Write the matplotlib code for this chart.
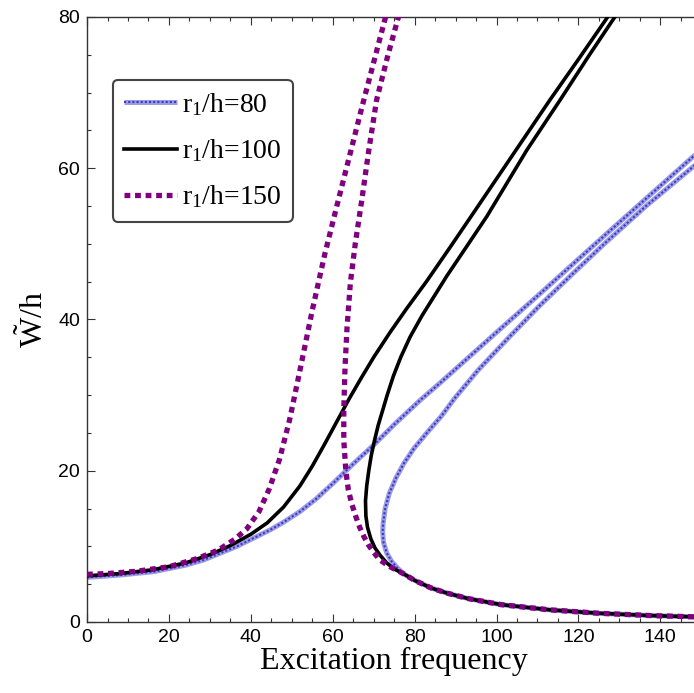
import matplotlib
matplotlib.use("Agg")
import matplotlib.pyplot as plt
from matplotlib.legend_handler import HandlerTuple
from matplotlib.ticker import MultipleLocator

plt.rcParams['mathtext.fontset'] = 'custom'
plt.rcParams['mathtext.rm'] = 'Liberation Serif'
plt.rcParams['mathtext.it'] = 'Liberation Serif:italic'

# r1/h = 80 (blue), upper branch: y as function of x
blue_up_x = [0, 8, 16.3, 24, 28.5, 36.6, 44.8, 48, 52, 56, 60, 65, 70, 75, 81.3, 86.2, 100,
             110.6, 127, 150]
blue_up_y = [5.9, 6.2, 6.65, 7.5, 8.2, 10.0, 12.2, 13.2, 14.6, 16.3, 18.3, 20.9, 23.4, 26.1,
             29.3, 31.6, 38.3, 43.4, 51.4, 62.5]
# lower/right branch, from the top down to the turning point
blue_lo_y = [61.1, 55, 50.1, 46, 41.7, 37.5, 33.3, 29.6, 27.2, 25.4, 23, 21, 19, 17, 15, 13,
             11.9, 10.5, 9.1, 8.0, 7.2, 6.4]
blue_lo_x = [150, 136.5, 126.5, 118.5, 110.3, 102.8, 95.5, 89.8, 86.5, 83.6, 79.9, 77.4, 75.4,
             73.8, 72.8, 72.3, 72.2, 72.4, 73.2, 74.4, 75.7, 77.2]

# r1/h = 100 (black)
black_up_x = [0, 8, 16, 24, 30, 35, 40, 44, 48, 52, 55, 58, 61, 64, 67, 70, 74, 78, 83,
              88.6, 93.5, 100, 106, 113, 120, 126.5, 128]
black_up_y = [6.1, 6.4, 6.9, 7.8, 8.9, 10.1, 11.6, 13.1, 15.2, 18.0, 20.6, 23.5, 26.5, 29.5,
              32.3, 35.0, 38.3, 41.4, 45.1, 49.5, 53.4, 58.6, 63.4, 69.0, 74.4, 79.5, 80.7]
black_lo_y = [80.5, 75, 69.0, 62.4, 53.6, 45.7, 40.5, 37.7, 35, 32.5, 30, 28, 26, 24, 22, 20,
              18, 16, 14, 12.5, 11, 9.8, 8.8, 7.8, 7.0, 6.4]
black_lo_x = [129.5, 122.7, 115.5, 107.4, 97.6, 87.8, 81.8, 78.9, 76.6, 74.8, 73.3, 72.2, 71.1,
              70.2, 69.4, 68.8, 68.3, 68.0, 68.1, 68.5, 69.3, 70.3, 71.6, 73.2, 75.0, 77.2]

# r1/h = 150 (purple)
purple_up_x = [0, 5, 12, 20, 27, 32, 36, 39, 42, 44.5, 47, 49.5, 52, 55, 58, 61, 64, 67, 70, 73]
purple_up_y = [6.3, 6.4, 6.7, 7.3, 8.4, 9.5, 10.9, 12.3, 14.6, 17.6, 21.5, 26.8, 33.3, 41.2,
               48.5, 55.0, 61.4, 67.8, 74.0, 80.2]
purple_lo_y = [80.3, 75, 69.0, 62.0, 55.8, 50, 44.8, 39, 33.7, 28, 24, 20, 17.5, 15.7, 14.0,
               12.5, 11.3, 10.2, 9.2, 8.2, 7.3, 6.4]
purple_lo_x = [76.2, 73.5, 70.7, 68.7, 67.1, 65.5, 64.3, 63.5, 63.0, 62.7, 62.7, 63.2, 63.8,
               64.6, 65.6, 66.6, 67.6, 68.7, 70.0, 71.5, 74.0, 77.2]

# common tail at high frequency (all three curves coincide)
tail_x = [80, 84, 88, 93, 101, 113, 125, 137.5, 150]
tail_y = [5.5, 4.5, 3.8, 3.1, 2.3, 1.6, 1.15, 0.85, 0.65]

labels = [r'r$_\mathrm{1}$/h=80', r'r$_\mathrm{1}$/h=100', r'r$_\mathrm{1}$/h=150']

fig = plt.figure(figsize=(6.94, 6.93), dpi=100)
ax = fig.add_axes([0.1254, 0.1025, 0.8851, 0.873])

# blue: light band with a fine dotted core
bk = dict(color='#9c9ce6', lw=3.6, solid_capstyle='butt', zorder=2)
bd = dict(color='#3a3ac0', lw=1.5, dashes=(1, 1), zorder=2.1)
ax.plot(blue_up_x, blue_up_y, **bk)
ax.plot(blue_up_x, blue_up_y, **bd)
ax.plot(blue_lo_x + tail_x, blue_lo_y + tail_y, **bk)
ax.plot(blue_lo_x + tail_x, blue_lo_y + tail_y, **bd)
h_blue = (ax.plot([], [], **bk)[0], ax.plot([], [], **bd)[0])

kk = dict(color='black', lw=2.6, zorder=3)
ax.plot(black_up_x, black_up_y, **kk)
h_black, = ax.plot(black_lo_x + tail_x, black_lo_y + tail_y, **kk)

pp = dict(color='#800080', lw=3.8, dashes=(1.1, 0.9), dash_capstyle='butt', zorder=4)
ax.plot(purple_up_x, purple_up_y, **pp)
h_purple, = ax.plot(purple_lo_x + tail_x, purple_lo_y + tail_y, **pp)

ax.set_xlim(0, 150)
ax.set_ylim(0, 80)
ax.xaxis.set_major_locator(MultipleLocator(20))
ax.xaxis.set_minor_locator(MultipleLocator(5))
ax.yaxis.set_major_locator(MultipleLocator(20))
ax.yaxis.set_minor_locator(MultipleLocator(5))
ax.tick_params(which='both', direction='in', top=True, right=False, width=0.8, color='#333333')
ax.tick_params(which='major', length=5.5, labelsize=14, pad=5)
ax.tick_params(which='minor', length=3)
for lab in ax.get_xticklabels() + ax.get_yticklabels():
    lab.set_fontfamily('Liberation Sans')
for s in ax.spines.values():
    s.set_linewidth(1.0)
    s.set_color('#333333')

ax.set_xlabel('Excitation frequency', fontsize=23, family='Liberation Serif', labelpad=1)
ax.set_ylabel(r'$\tilde{\mathrm{W}}\mathrm{/h}$', fontsize=23, labelpad=6)

leg = ax.legend([h_blue, h_black, h_purple], labels, handler_map={tuple: HandlerTuple(ndivide=1)},
                loc='upper left', bbox_to_anchor=(0.042, 0.896), borderaxespad=0,
                handlelength=1.9, handletextpad=0.2, labelspacing=0.7,
                fancybox=True, framealpha=1, edgecolor='#444444',
                prop={'family': 'Liberation Serif', 'size': 20})
leg.get_frame().set_linewidth(1.5)

fig.savefig('out.png', dpi=100)
